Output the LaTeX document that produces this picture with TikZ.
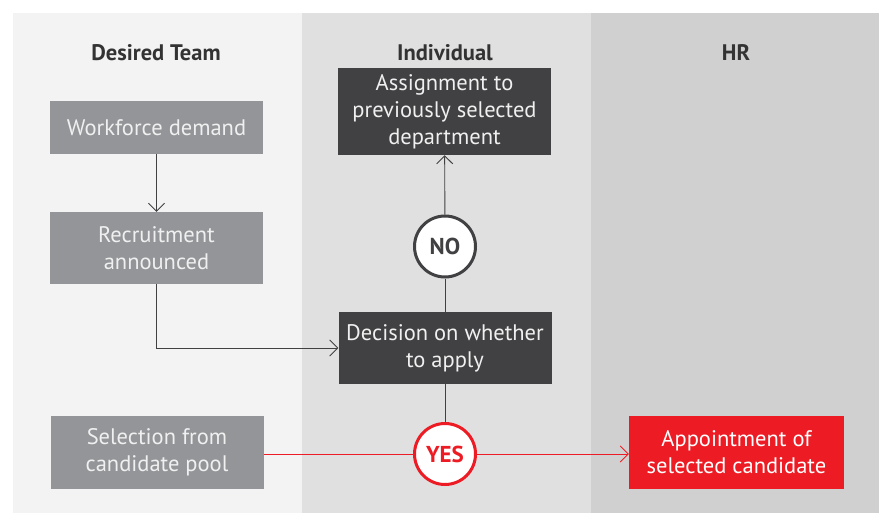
\documentclass[tikz,border=0pt]{standalone}
\usepackage{fontspec}
\setmainfont{PT Sans}
\usetikzlibrary{arrows.meta,positioning}
\definecolor{sav1}{HTML}{F3F3F3}
\definecolor{sav2}{HTML}{E0E0E0}
\definecolor{sav3}{HTML}{D0D0D0}
\definecolor{szurke}{HTML}{939598}
\definecolor{sotet}{HTML}{414042}
\definecolor{piros}{HTML}{ED1C24}
\definecolor{cimszin}{HTML}{333333}
\tikzset{
  cim/.style={font=\fontsize{22.5}{26}\selectfont\bfseries,text=cimszin},
  doboz/.style={inner sep=0pt,align=center,minimum width=213pt,text=white!94!black,
                font=\fontsize{22.5}{27}\selectfont},
  teambox/.style={doboz,fill=szurke},
  indbox/.style={doboz,fill=sotet},
  hrbox/.style={doboz,fill=piros,text=white},
  valasz/.style={circle,draw,line width=3pt,fill=white,minimum size=61pt,inner sep=0pt,
                 font=\fontsize{23}{26}\selectfont\bfseries},
  nyil/.style={-{Straight Barb[length=8pt,width=16pt]},line width=0.9pt,draw=sotet},
  vonal/.style={line width=0.9pt,draw=sotet},
  pnyil/.style={nyil,draw=piros},
}
\begin{document}
\begin{tikzpicture}[x=1pt,y=-1pt]
  \useasboundingbox (0,0) rectangle (881,513);
  % savok
  \fill[sav1] (13,13) rectangle (302,513);
  \fill[sav2] (302,13) rectangle (591,513);
  \fill[sav3] (591,13) rectangle (879,513);
  \node[cim] (t1) at (156,53) {Desired Team};
  \node[cim] (t2) at (445,53) {Individual};
  \node[cim] (t3) at (736,53) {HR};
  % dobozok
  \node[teambox,minimum height=53pt] (work) at (156.5,127.5) {Workforce demand};
  \node[teambox,minimum height=72pt] (recr) at (156.5,248) {Recruitment\\announced};
  \node[teambox,minimum height=73pt] (sel) at (157,452) {Selection from\\candidate pool};
  \node[indbox,minimum height=87pt] (assign) at (444.5,111.5) {Assignment to\\previously selected\\department};
  \node[indbox,minimum height=72pt] (dec) at (445,348) {Decision on whether\\to apply};
  \node[valasz,draw=sotet,text=sotet] (no) at (445,246.5) {NO};
  \node[valasz,draw=piros,text=piros] (yes) at (445,454) {YES};
  \node[hrbox,minimum width=215pt,minimum height=73pt] (appt) at (736.5,452) {Appointment of\\selected candidate};
  % nyilak
  \draw[nyil] (work) -- (recr);
  \draw[nyil] (recr.south) |- (dec.west);
  \draw[vonal] (dec) -- (no);
  \draw[nyil] (no) -- (assign);
  \draw[vonal] (dec) -- (yes);
  \draw[line width=0.9pt,draw=piros] (sel.east |- yes) -- (yes);
  \draw[pnyil] (yes) -- (appt.west |- yes);
\end{tikzpicture}
\end{document}
